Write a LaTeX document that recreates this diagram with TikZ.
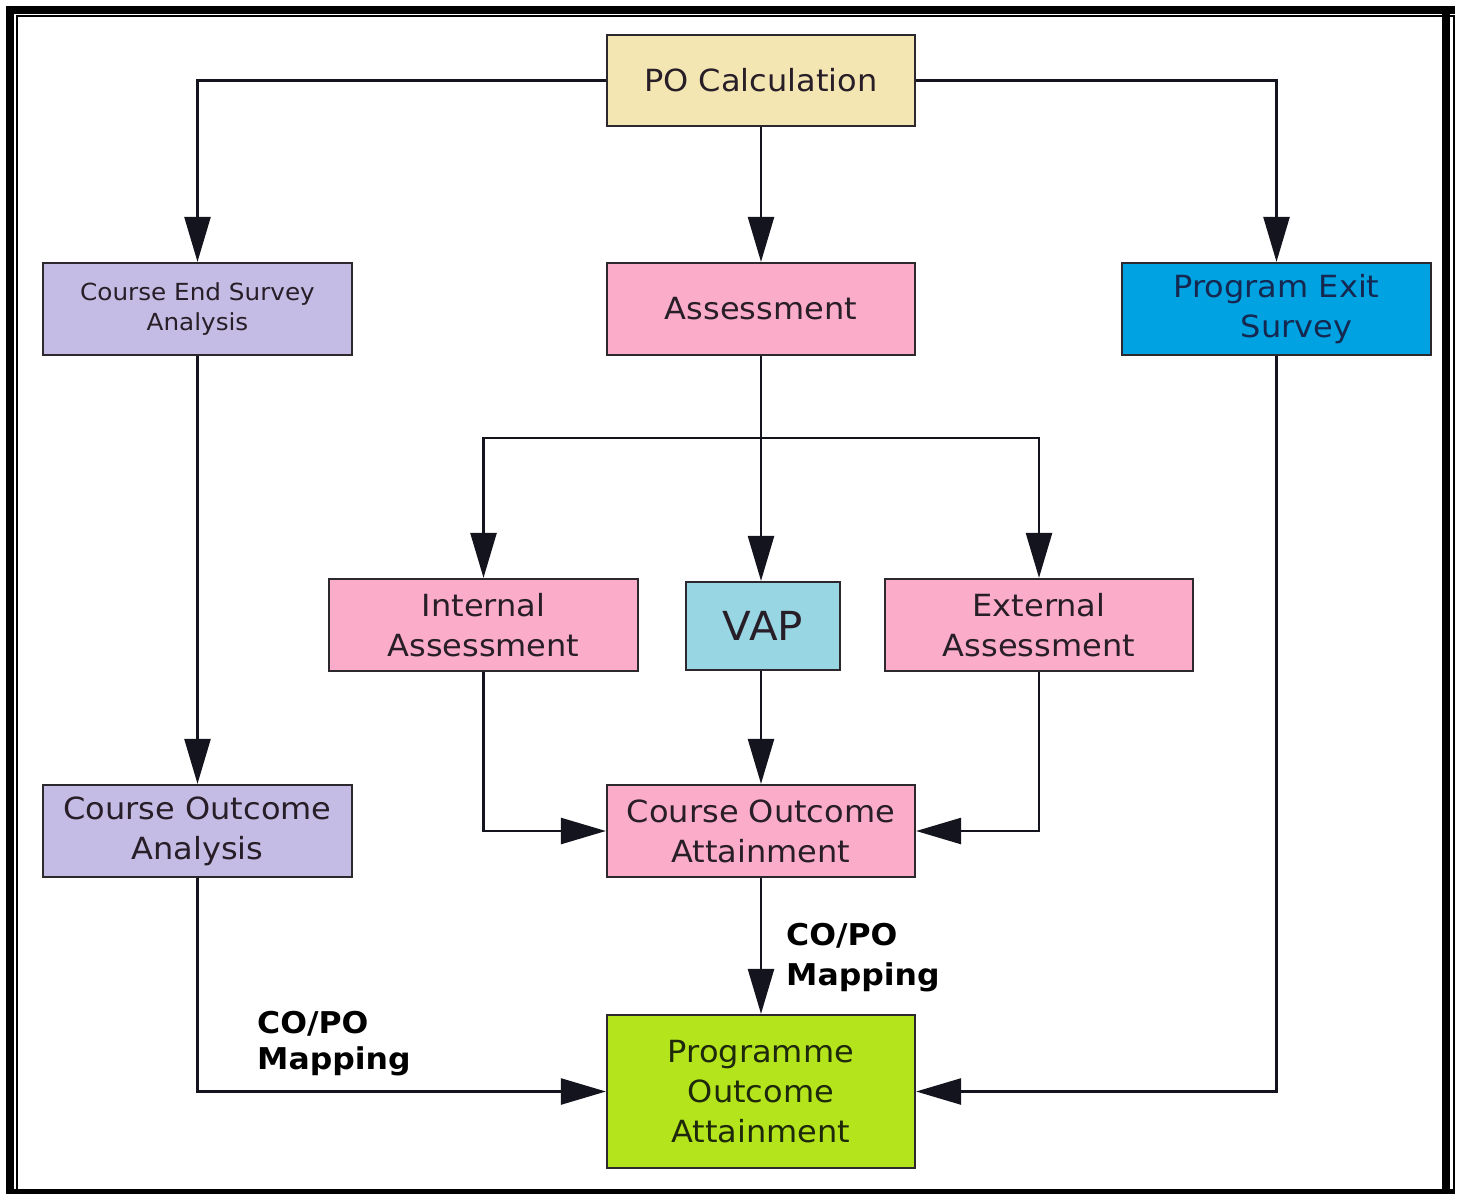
\documentclass[tikz,border=0pt]{standalone}
\usepackage{fontspec}
\setmainfont{DejaVu Sans}[FakeStretch=1.05]
\usetikzlibrary{arrows.meta}
\definecolor{beige}{RGB}{243,230,178}
\definecolor{lav}{RGB}{196,188,228}
\definecolor{pinkc}{RGB}{250,172,200}
\definecolor{bluec}{RGB}{0,162,226}
\definecolor{vapc}{RGB}{152,214,228}
\definecolor{greenc}{RGB}{180,228,28}
\definecolor{boxline}{RGB}{45,40,45}
\definecolor{txt}{RGB}{40,30,40}
\definecolor{navy}{RGB}{20,40,80}
\definecolor{dkgreen}{RGB}{30,40,10}
\definecolor{linec}{RGB}{20,20,30}
\begin{document}
\begin{tikzpicture}[x=1pt,y=-1pt,
  box/.style={draw=boxline,line width=2.2pt,align=center,inner sep=0pt,text=txt,
    font=\fontsize{30.5}{40}\selectfont},
  sz/.style 2 args={minimum width=#1pt,minimum height=#2pt},
  arr/.style={draw=linec,line width=2.5pt,-{Triangle[length=45pt,width=26pt]}},
  lbl/.style={align=left,inner sep=0pt,text=black}]
\useasboundingbox (0,0) rectangle (1462,1194);
% frame
\fill[black] (6,6) rectangle (1455,14);
\fill[black] (6,6) rectangle (14,1194);
\fill[black] (1442,14) rectangle (1450,1194);
\fill[black] (6,1189) rectangle (1455,1194);
\draw[line width=2pt] (16.5,1194) -- (16.5,16) -- (1453.5,16) -- (1453.5,1194);
% nodes
\node[box,fill=beige,sz={308}{91}] (po) at (761,80.5) {PO Calculation};
\node[box,fill=lav,sz={309}{92},font=\fontsize{23.5}{30}\selectfont] (ces) at (197.5,309) {Course End Survey\\Analysis};
\node[box,fill=pinkc,sz={308}{92}] (ass) at (761,309) {Assessment};
\node[box,fill=bluec,text=navy,sz={309}{92}] (pes) at (1276.5,309) {Program Exit\\\hspace*{40pt}Survey};
\node[box,fill=pinkc,sz={309}{92}] (ia) at (483.5,625) {Internal\\Assessment};
\node[box,fill=vapc,sz={154}{88},font=\fontsize{40}{48}\selectfont] (vap) at (763,626) {VAP};
\node[box,fill=pinkc,sz={308}{92}] (ea) at (1039,625) {External\\Assessment};
\node[box,fill=lav,sz={309}{92}] (coa) at (197.5,831) {Course Outcome\\Analysis};
\node[box,fill=pinkc,sz={308}{92}] (cot) at (761,831) {Course Outcome\\Attainment};
\node[box,fill=greenc,text=dkgreen,sz={308}{153}] (poa) at (761,1091.5) {Programme\\Outcome\\Attainment};
% connectors
\draw[arr] (po.west) -| (ces.north);
\draw[arr] (po.south) -- (ass.north);
\draw[arr] (po.east) -| (pes.north);
\draw[arr] (ass.south) -- (ass.south |- vap.north);
\coordinate (br) at (761,438);
\draw[arr] (br) -| (ia.north);
\draw[arr] (br) -| (ea.north);
\draw[arr] (ces.south) -- (coa.north);
\draw[arr] (ia.south) |- (cot.west);
\draw[arr] (vap.south -| cot.north) -- (cot.north);
\draw[arr] (ea.south) |- (cot.east);
\draw[arr] (cot.south) -- (poa.north);
\draw[arr] (coa.south) |- (poa.west);
\draw[arr] (pes.south) |- (poa.east);
% labels
\node[lbl,anchor=north west,font=\bfseries\fontsize{30}{40}\selectfont] (m1) at (786,923) {CO/PO\\Mapping};
\node[lbl,anchor=north west,font=\bfseries\fontsize{30}{36}\selectfont] (m2) at (257,1011) {CO/PO\\Mapping};
\end{tikzpicture}
\end{document}
